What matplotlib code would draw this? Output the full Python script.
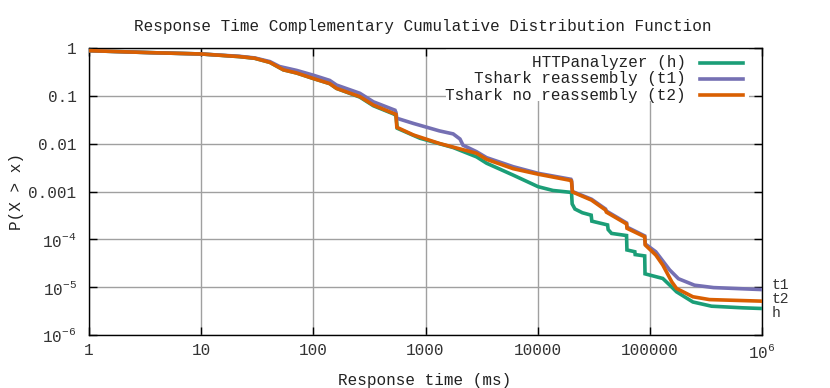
import numpy as np
import matplotlib
matplotlib.use("Agg")
import matplotlib.pyplot as plt

plt.rcParams['font.family'] = ['Liberation Mono', 'DejaVu Sans Mono']
plt.rcParams['mathtext.fontset'] = 'custom'
plt.rcParams['mathtext.rm'] = 'Liberation Mono'
plt.rcParams['mathtext.default'] = 'regular'

# data (ms, P(X > x))
h_x = [1, 3.5, 6.5, 10, 22, 30, 41, 54, 71, 100, 140, 161, 260, 343, 517, 545, 560,
       891, 1765, 2850, 3505, 6050, 10100, 13700, 19800, 20050, 20300, 21500, 25000,
       30000, 30400, 42000, 42500, 45600, 62000, 62500, 73500, 74000, 90000, 90600,
       130500, 150700, 173000, 242000, 355000, 674000, 1e6]
h_y = [0.88, 0.80, 0.77, 0.75, 0.66, 0.61, 0.50, 0.35, 0.30, 0.23, 0.18, 0.143, 0.094,
       0.062, 0.042, 0.039, 0.021, 0.013, 0.0083, 0.0053, 0.0039, 0.0022, 0.00126,
       0.00105, 0.00096, 0.00093, 0.00055, 0.00043, 0.00036, 0.00032, 0.00024, 0.0002,
       0.00016, 0.000133, 0.00012, 0.00006, 0.000055, 0.000048, 0.000045, 0.000019,
       1.52e-5, 1.1e-5, 8e-6, 4.9e-6, 4.0e-6, 3.7e-6, 3.58e-6]

t1_x = [1, 3.5, 6.5, 10, 22, 30, 41, 50, 71, 100, 140, 161, 260, 343, 535, 545, 555,
        780, 1330, 1765, 2030, 2160, 2850, 3505, 6050, 10100, 19800, 20050, 20400,
        30200, 40300, 41000, 62000, 62600, 90000, 91000, 113000, 150000, 180000,
        250000, 370000, 1e6]
t1_y = [0.88, 0.80, 0.77, 0.75, 0.67, 0.62, 0.52, 0.41, 0.34, 0.27, 0.21, 0.168, 0.113,
        0.075, 0.05, 0.045, 0.034, 0.0265, 0.0185, 0.016, 0.0125, 0.0093, 0.0068,
        0.0051, 0.0033, 0.0024, 0.0018, 0.0017, 0.0010, 0.00069, 0.00043, 0.00039,
        0.00022, 0.00018, 0.000118, 0.00008, 5.5e-5, 2.3e-5, 1.5e-5, 1.1e-5, 9.8e-6,
        8.9e-6]

t2_x = [1, 3.5, 6.5, 10, 22, 30, 41, 54, 71, 100, 140, 161, 260, 343, 517, 545, 555,
        780, 1330, 2850, 3505, 6050, 10100, 19800, 20050, 20400, 30200, 40300, 41000,
        62000, 62600, 90000, 91000, 113000, 130500, 157000, 173000, 242000, 340000, 1e6]
t2_y = [0.88, 0.80, 0.77, 0.75, 0.66, 0.61, 0.50, 0.35, 0.30, 0.23, 0.18, 0.143, 0.096,
        0.064, 0.043, 0.041, 0.022, 0.0152, 0.0101, 0.0063, 0.0047, 0.0030, 0.0023,
        0.0017, 0.0016, 0.00098, 0.00066, 0.00041, 0.00037, 0.00021, 0.00017, 0.000113,
        0.000076, 4.7e-5, 2.9e-5, 1.29e-5, 9.4e-6, 6.3e-6, 5.5e-6, 5.1e-6]

labels = ["HTTPanalyzer (h)", "Tshark reassembly (t1)", "Tshark no reassembly (t2)"]
short = ["h", "t1", "t2"]
colors = ["#1b9e77", "#7570b3", "#d95f02"]

xticks = [1, 10, 100, 1000, 10000, 100000, 1e6]
xticklabels = ["1", "10", "100", "1000", "10000", "100000", "10$^{6}$"]
yticks = [1e-6, 1e-5, 1e-4, 1e-3, 1e-2, 1e-1, 1]
yticklabels = ["10$^{-6}$", "10$^{-5}$", "10$^{-4}$", "0.001", "0.01", "0.1", "1"]

fig = plt.figure(figsize=(8.3, 3.88), dpi=100)
ax = fig.add_axes([89/830, 1-335/388, 673/830, 287/388])

series = [(h_x, h_y), (t1_x, t1_y), (t2_x, t2_y)]
for (x, y), c in zip(series, colors):
    ax.plot(x, y, color=c, lw=2.6, solid_joinstyle='miter', zorder=3)

ax.set_xscale('log')
ax.set_yscale('log')
ax.set_xlim(1, 1e6)
ax.set_ylim(1e-6, 1)
ax.set_xticks(xticks)
ax.set_xticklabels(xticklabels)
ax.set_yticks(yticks)
ax.set_yticklabels(yticklabels)
ax.minorticks_off()
ax.tick_params(direction='in', length=6, width=1, top=True, right=True,
               labelsize=11.5, colors='black')
ax.tick_params(axis='x', pad=6, labelcolor='#333333')
ax.tick_params(axis='y', pad=9, labelcolor='#333333')
ax.grid(True, color='#a0a0a0', lw=1)
for s in ax.spines.values():
    s.set_linewidth(1)

# legend, gnuplot style: right-aligned text then sample line
ax.add_patch(plt.Rectangle((0.53, 0.815), 0.45, 0.185, transform=ax.transAxes,
                           facecolor='white', edgecolor='none', zorder=2.5))
rows = [0.948, 0.892, 0.836]
for lab, c, ry in zip(labels, colors, rows):
    ax.text(0.887, ry, lab, transform=ax.transAxes, ha='right', va='center',
            fontsize=11.5, color='#222222', zorder=4)
    ax.plot([0.908, 0.972], [ry, ry], transform=ax.transAxes, color=c, lw=2.6,
            zorder=4)

# end labels on the right
for s, ry in zip(short, [0.077, 0.174, 0.125]):
    ax.text(1.015, ry, s, transform=ax.transAxes, ha='left', va='center',
            fontsize=10.5, color='#333333')

fig.text(0.5 * (89 + 762) / 830 - 0.003, 1 - 27/388,
         "Response Time Complementary Cumulative Distribution Function",
         ha='center', va='center', fontsize=11.5, color='#222222')
fig.text(425/830, 1 - 381/388, "Response time (ms)", ha='center', va='center',
         fontsize=11.5, color='#222222')
fig.text(17/830, 1 - 192/388, "P(X > x)", ha='center', va='center', rotation=90,
         fontsize=11.5, color='#222222')

fig.savefig("out.png", dpi=100)
